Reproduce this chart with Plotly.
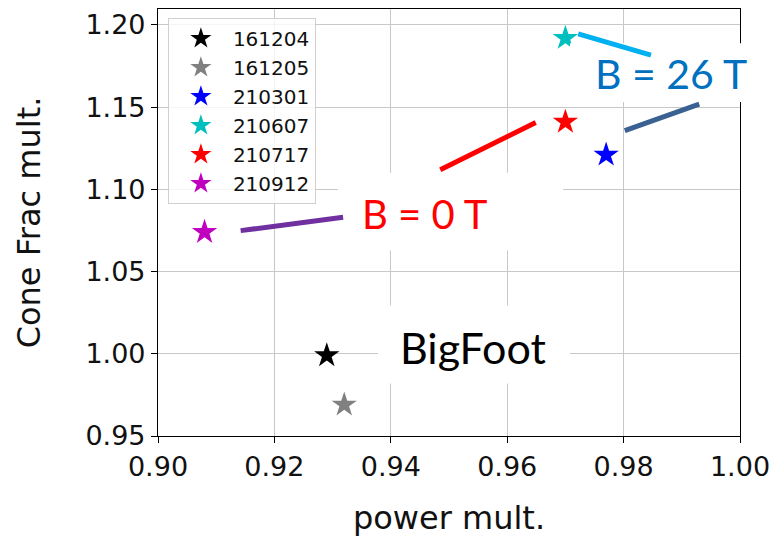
import plotly.graph_objects as go

# ---- data ----
shots = ["161204", "161205", "210301", "210607", "210717", "210912"]
power_mult = [0.929, 0.932, 0.977, 0.970, 0.970, 0.908]
cone_frac_mult = [0.999, 0.969, 1.121, 1.192, 1.141, 1.074]
colors = ["#000000", "#808080", "#0000FF", "#00BFBF", "#FF0000", "#BF00BF"]

x_ticks = [0.90, 0.92, 0.94, 0.96, 0.98, 1.00]
y_ticks = [0.95, 1.00, 1.05, 1.10, 1.15, 1.20]

fig = go.Figure()
for i, s in enumerate(shots):
    fig.add_trace(go.Scatter(
        x=[power_mult[i]], y=[cone_frac_mult[i]], mode="markers", name=s,
        marker=dict(symbol="star", size=19, color=colors[i], line=dict(width=0)),
    ))

# white boxes behind the overlay labels (cover gridlines)
boxes_data = [
    (0.9309, 0.9696, 1.0628, 1.1101),
    (0.9378, 0.9708, 0.9820, 1.0294),
]
for x0, x1, y0, y1 in boxes_data:
    fig.add_shape(type="rect", xref="x", yref="y", x0=x0, x1=x1, y0=y0, y1=y1,
                  fillcolor="white", line=dict(width=0), layer="above")
fig.add_shape(type="rect", xref="paper", yref="paper", x0=0.708, x1=1.03, y0=0.782, y1=0.920,
              fillcolor="white", line=dict(width=0), layer="above")

# connector lines
connectors = [
    (0.9722, 1.1946, 0.9847, 1.1817, "#00B0F0"),
    (0.9802, 1.1357, 0.9930, 1.1519, "#3A6191"),
    (0.9485, 1.1120, 0.9649, 1.1406, "#FF0000"),
    (0.9142, 1.0749, 0.9318, 1.0830, "#7030A0"),
]
for x0, y0, x1, y1, c in connectors:
    fig.add_shape(type="line", xref="x", yref="y", x0=x0, y0=y0, x1=x1, y1=y1,
                  line=dict(color=c, width=5), layer="above")

label_font = "Lato, 'Open Sans', sans-serif"
fig.add_annotation(x=0.9459, y=1.0852, xref="x", yref="y", text="B = 0 T", showarrow=False,
                   font=dict(family=label_font, size=40, color="#FF0000"))
fig.add_annotation(x=0.9541, y=1.0039, xref="x", yref="y", text="BigFoot", showarrow=False,
                   font=dict(family=label_font, size=43, color="#000000"))
fig.add_annotation(x=0.9882, y=1.1703, xref="x", yref="y", text="B = 26 T", showarrow=False,
                   font=dict(family=label_font, size=41, color="#0070C0"))

axis_common = dict(
    showline=True, linecolor="black", linewidth=1.2, mirror=True,
    ticks="outside", ticklen=6, tickwidth=1.2, tickcolor="black",
    showgrid=True, gridcolor="#c8c8c8", gridwidth=1, zeroline=False,
    automargin=False,
    tickfont=dict(family="DejaVu Sans", size=27, color="#111111"),
)
fig.update_xaxes(range=[0.90, 1.00], tickvals=x_ticks, ticktext=[f"{v:.2f}" for v in x_ticks],
                 title=dict(text="power mult.", font=dict(family="DejaVu Sans", size=32, color="#111111"), standoff=26),
                 **axis_common)
fig.update_yaxes(range=[0.95, 1.2097], tickvals=y_ticks, ticktext=[f"{v:.2f}" for v in y_ticks],
                 title=dict(text="Cone Frac mult.", font=dict(family="DejaVu Sans", size=32, color="#111111"), standoff=35),
                 **axis_common)

fig.update_layout(
    width=771, height=543,
    margin=dict(l=158, r=31, t=9, b=107),
    paper_bgcolor="white", plot_bgcolor="white",
    showlegend=True,
    legend=dict(x=0.017, y=0.979, xanchor="left", yanchor="top",
                bgcolor="rgba(255,255,255,0.8)", bordercolor="#d0d0d0", borderwidth=1,
                font=dict(family="DejaVu Sans", size=20, color="#111111"),
                itemsizing="trace", itemwidth=54),
)

fig.write_html("out.html")
